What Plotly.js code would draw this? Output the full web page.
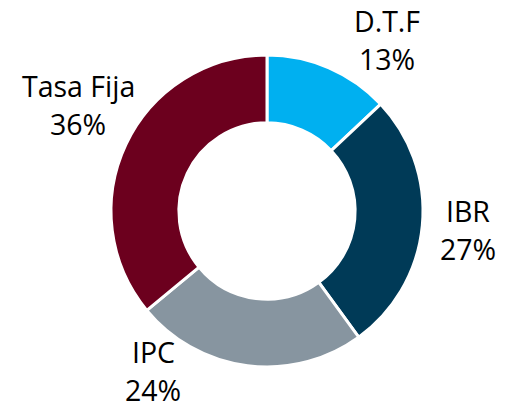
<!DOCTYPE html>
<html>
<head>
<meta charset="utf-8">
<script src="https://cdn.plot.ly/plotly-3.0.1.min.js"></script>
<style>html,body{margin:0;padding:0;background:#fff;}#chart{width:506px;height:408px;}</style>
</head>
<body>
<div id="chart"></div>
<script>
const categories = ["D.T.F", "IBR", "IPC", "Tasa Fija"];
const values = [13, 27, 24, 36];
const colors = ["#00B0F0", "#003A57", "#8795A0", "#6C001E"];
// [x center, name line cap-center y, percent line cap-center y]
const labelPos = [[387, 22, 60], [468, 212, 250], [153, 353, 391], [78, 87, 125]];

const W = 506, H = 408, cx = 267, cy = 211, R = 156;
const font = {family: "'Open Sans', sans-serif", size: 28.5, color: "#000"};

const annotations = [];
categories.forEach((c, i) => {
  [[c, labelPos[i][1]], [values[i] + "%", labelPos[i][2]]].forEach(([t, y]) => {
    annotations.push({
      x: labelPos[i][0] / W, y: 1 - (y - 1) / H,
      xref: "paper", yref: "paper", xanchor: "center", yanchor: "middle",
      text: t, showarrow: false, font: font
    });
  });
});

Plotly.newPlot("chart", [{
  type: "pie",
  labels: categories,
  values: values,
  sort: false,
  direction: "clockwise",
  rotation: 0,
  hole: 0.565,
  textinfo: "none",
  hoverinfo: "none",
  marker: {colors: colors, line: {color: "#fff", width: 3}},
  domain: {x: [(cx - R) / W, (cx + R) / W], y: [(H - cy - R) / H, (H - cy + R) / H]}
}], {
  width: W, height: H,
  margin: {l: 0, r: 0, t: 0, b: 0},
  showlegend: false,
  paper_bgcolor: "#fff",
  annotations: annotations
}, {staticPlot: true, displayModeBar: false});
</script>
</body>
</html>
